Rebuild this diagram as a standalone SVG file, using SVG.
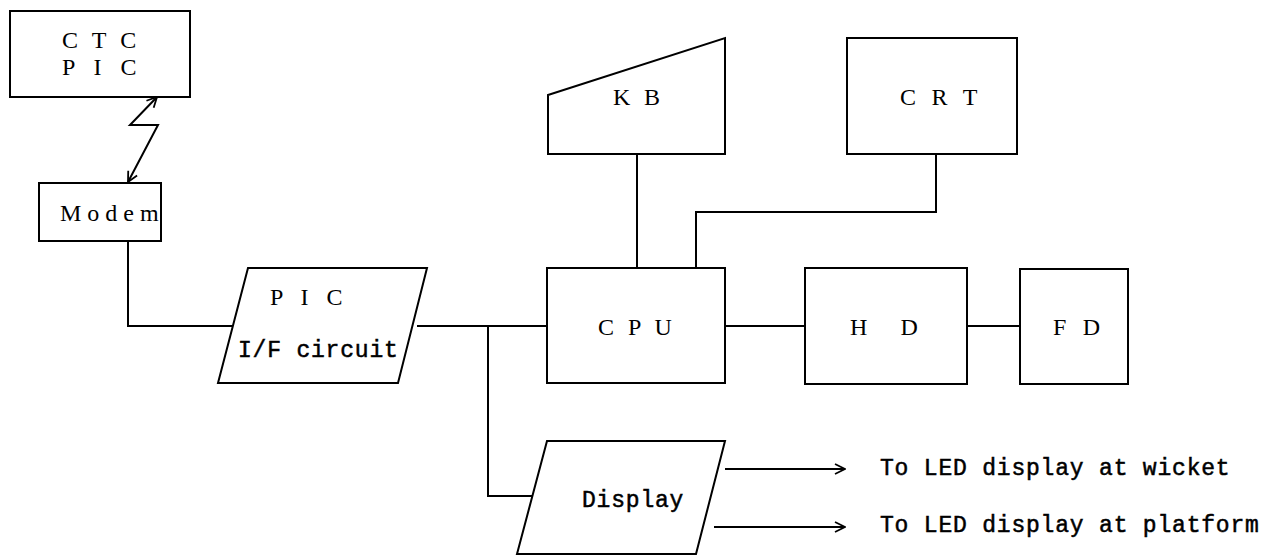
<svg xmlns="http://www.w3.org/2000/svg" width="1280" height="559" viewBox="0 0 1280 559">
<style>
.box{fill:#fff;stroke:#000;stroke-width:2}
.ln{fill:none;stroke:#000;stroke-width:2}
.sf{font-family:"Liberation Serif","Times New Roman",serif;font-size:24px;fill:#000}
.mn{font-family:"Liberation Mono","Courier New",monospace;font-size:23px;fill:#000;stroke:#000;stroke-width:0.5;letter-spacing:0.8px}
</style>
<defs>
<marker id="open" viewBox="0 0 12 12" refX="11" refY="6" markerWidth="12" markerHeight="12" markerUnits="userSpaceOnUse" orient="auto-start-reverse">
<path d="M1,1 L11,6 L1,11" fill="none" stroke="#000" stroke-width="1.8"/>
</marker>
</defs>
<rect width="1280" height="559" fill="#fff"/>
<g id="connectors">
<path class="ln" d="M157,97 L130,125 L158,125 L128,182" marker-start="url(#open)" marker-end="url(#open)"/>
<path class="ln" d="M128,241 L128,326 L233,326"/>
<path class="ln" d="M417,326 L547,326"/>
<path class="ln" d="M488,326 L488,496 L532,496"/>
<path class="ln" d="M637,154 L637,268"/>
<path class="ln" d="M936,154 L936,212 L696,212 L696,268"/>
<path class="ln" d="M725,326 L805,326"/>
<path class="ln" d="M967,326 L1020,326"/>
<path class="ln" d="M725,469 L845,469" stroke-width="1.5" marker-end="url(#open)"/>
<path class="ln" d="M714,527 L845,527" stroke-width="1.5" marker-end="url(#open)"/>
</g>
<g id="ctc">
<rect class="box" x="10" y="11" width="180" height="86"/>
<text class="sf" x="62" y="48" letter-spacing="4.1">C T C</text>
<text class="sf" x="62" y="75" letter-spacing="6.5">P I C</text>
</g>
<g id="modem">
<rect class="box" x="39" y="183" width="122" height="58"/>
<text class="sf" x="60" y="221" letter-spacing="0">M o d e m</text>
</g>
<g id="pic-if">
<polygon class="box" points="248,268 427,268 398,383 218,383"/>
<text class="sf" x="270" y="305" letter-spacing="6">P I C</text>
<text class="mn" x="238" y="357">I/F circuit</text>
</g>
<g id="kb">
<polygon class="box" points="548,95 725,38 725,154 548,154"/>
<text class="sf" x="613" y="105" letter-spacing="3.8">K B</text>
</g>
<g id="crt">
<rect class="box" x="847" y="38" width="170" height="116"/>
<text class="sf" x="900" y="105" letter-spacing="4.8">C R T</text>
</g>
<g id="cpu">
<rect class="box" x="547" y="268" width="178" height="115"/>
<text class="sf" x="598" y="335" letter-spacing="4">C P U</text>
</g>
<g id="hd">
<rect class="box" x="805" y="268" width="162" height="116"/>
<text class="sf" x="850" y="335" letter-spacing="13.6">H D</text>
</g>
<g id="fd">
<rect class="box" x="1020" y="269" width="108" height="115"/>
<text class="sf" x="1053" y="335" letter-spacing="5.2">F D</text>
</g>
<g id="display">
<polygon class="box" points="547,441 725,441 696,554 517,554"/>
<text class="mn" x="582" y="507">Display</text>
</g>
<g id="labels">
<text class="mn" x="880" y="475">To LED display at wicket</text>
<text class="mn" x="880" y="532">To LED display at platform</text>
</g>
</svg>
